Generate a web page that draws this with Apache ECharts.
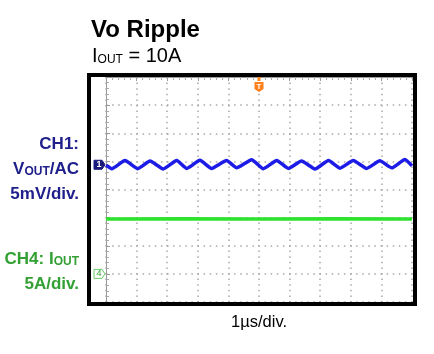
<!DOCTYPE html>
<html>
<head>
<meta charset="utf-8">
<script src="https://cdn.jsdelivr.net/npm/echarts/dist/echarts.min.js"></script>
<style>
  html, body { margin: 0; padding: 0; background: #fff; }
  #scope { width: 434px; height: 354px; }
</style>
</head>
<body>
<div id="scope"></div>
<script>
  // screen is 10 x 8 divisions, 1us/div horizontally
  const xRange = [0, 10];
  const yRange = [-4, 4];

  // CH1 Vout/AC (5mV/div) in divisions
  const ch1Time = [0, 0.19, 0.62, 1.04, 1.44, 1.87, 2.31, 2.64, 3.07, 3.45, 3.94, 4.27, 4.76,
    5.14, 5.58, 5.96, 6.39, 6.83, 7.27, 7.65, 8.08, 8.52, 8.95, 9.34, 9.77, 10];
  const ch1Level = [0.86, 0.74, 1.03, 0.74, 1.01, 0.73, 1.03, 0.75, 1.04, 0.75, 1.03, 0.77, 1.06,
    0.74, 1.03, 0.75, 1.01, 0.73, 1.03, 0.76, 1.03, 0.75, 1.02, 0.77, 1.07, 0.84];

  // CH4 Iout (5A/div), flat at 10A above its ground marker
  const ch4Time = [0, 2.5, 5, 7.5, 10];
  const ch4Level = [-1.05, -1.04, -1.05, -1.04, -1.05];

  // ground markers and trigger position
  const ch1Offset = 0.88;
  const ch4Offset = -3;
  const triggerTime = 5;

  const BLUE = '#1c1ce6';
  const GREEN = '#2ee22e';
  const FONT = '"Liberation Sans", Arial, sans-serif';

  const chart = echarts.init(document.getElementById('scope'));

  const gridDot = '#a8a8a8';

  const option = {
    animation: false,
    backgroundColor: '#fff',
    grid: { left: 106, top: 77, width: 306, height: 225 },
    xAxis: [
      {
        type: 'value', min: xRange[0], max: xRange[1], interval: 1,
        axisLabel: { show: false }, axisLine: { show: false }, axisTick: { show: false },
        splitLine: { show: true, lineStyle: { color: gridDot, width: 1.5, type: [1.5, 4.1] } },
      },
      {
        type: 'value', position: 'top', min: xRange[0], max: xRange[1], interval: 1,
        axisLabel: { show: false },
        axisLine: { show: true, lineStyle: { color: '#999', width: 1 } },
        axisTick: { show: true, inside: true, length: 4, lineStyle: { color: '#999' } },
        minorTick: { show: true, splitNumber: 5, length: 3, lineStyle: { color: '#aaa' } },
        splitLine: { show: false },
      },
    ],
    yAxis: [
      {
        type: 'value', min: yRange[0], max: yRange[1], interval: 1,
        axisLabel: { show: false },
        axisLine: { show: true, lineStyle: { color: '#999', width: 1 } },
        axisTick: { show: true, inside: true, length: 4, lineStyle: { color: '#999' } },
        minorTick: { show: true, splitNumber: 5, length: 3, lineStyle: { color: '#aaa' } },
        splitLine: { show: true, lineStyle: { color: gridDot, width: 1.5, type: [1.5, 4.6] } },
      },
    ],
    series: [
      {
        name: 'CH4', type: 'line', xAxisIndex: 0, showSymbol: false, smooth: false,
        data: ch4Time.map((t, i) => [t, ch4Level[i]]),
        lineStyle: { color: GREEN, width: 3.5 },
      },
      {
        name: 'CH1', type: 'line', xAxisIndex: 0, showSymbol: false, smooth: 0.15,
        data: ch1Time.map((t, i) => [t, ch1Level[i]]),
        lineStyle: { color: BLUE, width: 3.5 },
      },
    ],
    graphic: [
      {
        type: 'text', left: 91, top: 18,
        style: { text: 'Vo Ripple', font: 'bold 24px ' + FONT, fill: '#000' },
      },
      {
        type: 'text', x: 92, y: 56,
        style: {
          text: '{a|I}{b|OUT}{a| = 10A}', verticalAlign: 'middle',
          rich: {
            a: { font: '20px ' + FONT, fill: '#000', lineHeight: 20, verticalAlign: 'bottom' },
            b: { font: '12px ' + FONT, fill: '#000', lineHeight: 15, verticalAlign: 'bottom' },
          },
        },
      },
      {
        type: 'text', x: 79, y: 144,
        style: { text: 'CH1:', font: 'bold 17px ' + FONT, fill: '#20208c', align: 'right', verticalAlign: 'middle' },
      },
      {
        type: 'text', x: 79, y: 169,
        style: {
          text: '{a|V}{b|OUT}{a|/AC}', align: 'right', verticalAlign: 'middle',
          rich: {
            a: { font: 'bold 17px ' + FONT, fill: '#20208c', lineHeight: 17, verticalAlign: 'bottom' },
            b: { font: 'bold 12px ' + FONT, fill: '#20208c', lineHeight: 14, verticalAlign: 'bottom' },
          },
        },
      },
      {
        type: 'text', x: 79, y: 194,
        style: { text: '5mV/div.', font: 'bold 17px ' + FONT, fill: '#20208c', align: 'right', verticalAlign: 'middle' },
      },
      {
        type: 'text', x: 79, y: 259,
        style: {
          text: '{a|CH4: I}{b|OUT}', align: 'right', verticalAlign: 'middle',
          rich: {
            a: { font: 'bold 17px ' + FONT, fill: '#33a033', lineHeight: 17, verticalAlign: 'bottom' },
            b: { font: 'bold 12px ' + FONT, fill: '#33a033', lineHeight: 14, verticalAlign: 'bottom' },
          },
        },
      },
      {
        type: 'text', x: 79, y: 284,
        style: { text: '5A/div.', font: 'bold 17px ' + FONT, fill: '#33a033', align: 'right', verticalAlign: 'middle' },
      },
      {
        type: 'text', x: 259, y: 322,
        style: { text: '1µs/div.', font: '16.5px ' + FONT, fill: '#000', align: 'center', verticalAlign: 'middle' },
      },
      // scope screen frame
      {
        type: 'rect', z: 100, silent: true,
        shape: { x: 89, y: 75, width: 326, height: 229 },
        style: { fill: 'none', stroke: '#000', lineWidth: 4 },
      },
    ],
  };

  chart.setOption(option);

  // channel ground markers and trigger flag, placed through the axes
  const p1 = chart.convertToPixel({ gridIndex: 0 }, [xRange[0], ch1Offset]);
  const p4 = chart.convertToPixel({ gridIndex: 0 }, [xRange[0], ch4Offset]);
  const pt = chart.convertToPixel({ gridIndex: 0 }, [triggerTime, yRange[1]]);

  function badge(x, y) {
    return [[x - 12, y - 4.5], [x - 4, y - 4.5], [x - 1, y], [x - 4, y + 4.5], [x - 12, y + 4.5]];
  }

  const markers = [
    {
      type: 'polygon', z: 50, shape: { points: badge(p1[0], p1[1]) },
      style: { fill: '#1a1a7a', stroke: '#1a1a7a', lineWidth: 1 },
    },
    {
      type: 'text', z: 51, x: p1[0] - 7, y: p1[1],
      style: { text: '1', font: 'bold 9px ' + FONT, fill: '#fff', align: 'center', verticalAlign: 'middle' },
    },
    {
      type: 'polygon', z: 50, shape: { points: badge(p4[0], p4[1]) },
      style: { fill: '#fff', stroke: '#66cc66', lineWidth: 1 },
    },
    {
      type: 'text', z: 51, x: p4[0] - 7, y: p4[1],
      style: { text: '4', font: '9px ' + FONT, fill: '#33aa33', align: 'center', verticalAlign: 'middle' },
    },
    {
      type: 'rect', z: 50, shape: { x: pt[0] - 1.5, y: pt[1], width: 3, height: 4 },
      style: { fill: '#ff8a1a' },
    },
    {
      type: 'polygon', z: 50,
      shape: { points: [[pt[0] - 4.5, pt[1] + 5], [pt[0] + 4.5, pt[1] + 5], [pt[0] + 4.5, pt[1] + 12],
        [pt[0], pt[1] + 15], [pt[0] - 4.5, pt[1] + 12]] },
      style: { fill: '#ff7f1a' },
    },
    {
      type: 'text', z: 51, x: pt[0], y: pt[1] + 9.5,
      style: { text: 'T', font: 'bold 8px ' + FONT, fill: '#fff', align: 'center', verticalAlign: 'middle' },
    },
  ];

  chart.setOption({ graphic: option.graphic.concat(markers) });

  window.onresize = function() {
    chart.resize();
  };
</script>
</body>
</html>
